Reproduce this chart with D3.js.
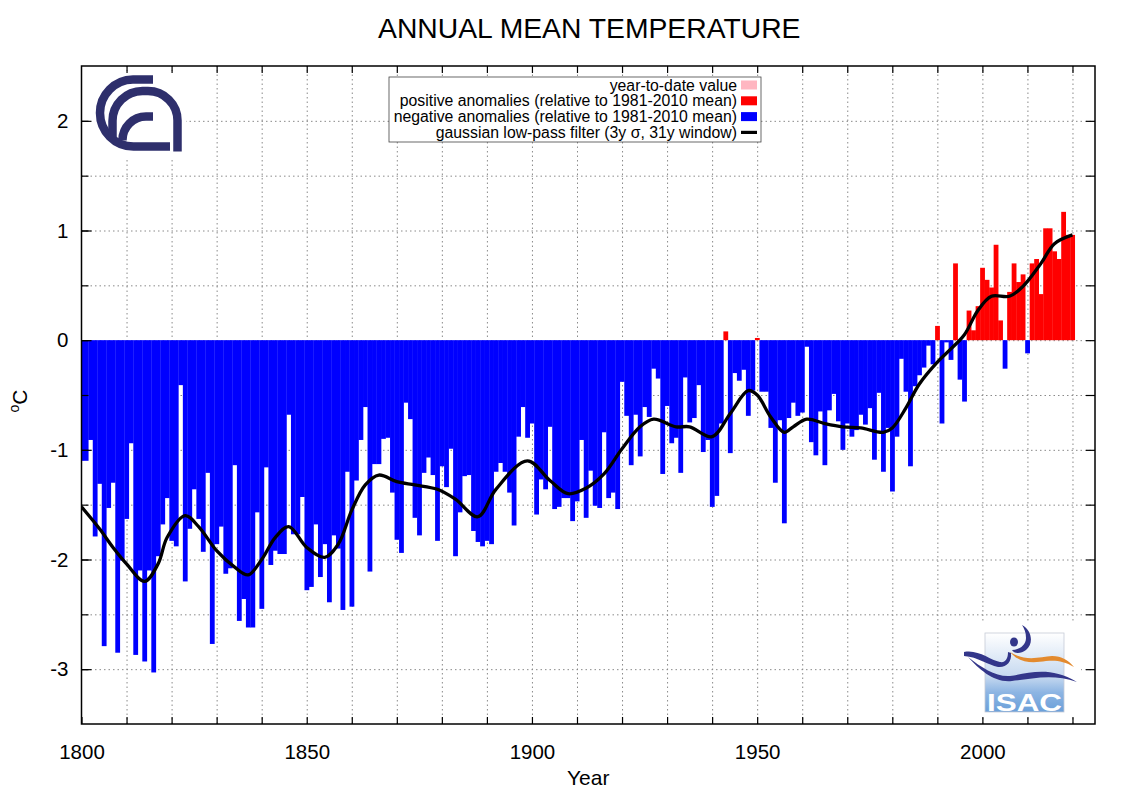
<!DOCTYPE html>
<html>
<head>
<meta charset="utf-8">
<script src="https://cdn.jsdelivr.net/npm/d3@7"></script>
<style>
body { margin: 0; background: #fff; }
text { font-family: "Liberation Sans", Arial, Helvetica, sans-serif; }
</style>
</head>
<body>
<script>
// annual anomalies (deg C, relative to 1981-2010), one value per year from 1800
var startYear = 1800;
var anomalies = [
  -1.10,-1.10,-0.91,-1.79,-1.31,-2.79,-1.53,-1.30,-2.85,-2.01,
  -1.63,-0.94,-2.87,-2.10,-2.93,-2.10,-3.03,-1.97,-1.68,-1.44,
  -1.83,-1.88,-0.41,-2.20,-1.72,-1.36,-1.63,-1.93,-1.21,-2.77,
  -1.86,-1.70,-2.13,-2.08,-1.14,-2.56,-2.36,-2.62,-2.62,-1.57,
  -2.45,-1.16,-2.05,-1.92,-1.95,-1.95,-0.68,-1.77,-1.77,-1.43,
  -2.28,-2.25,-1.68,-2.16,-1.86,-2.39,-1.78,-1.90,-2.46,-1.20,
  -2.43,-1.28,-0.91,-0.61,-2.11,-1.13,-1.13,-0.90,-0.89,-1.39,
  -1.82,-1.94,-0.57,-0.72,-1.62,-1.78,-1.21,-1.07,-1.23,-1.83,
  -1.15,-1.34,-0.99,-1.97,-1.57,-1.24,-1.23,-1.74,-1.84,-1.88,
  -1.83,-1.86,-1.20,-1.12,-1.20,-1.39,-1.69,-0.88,-0.61,-0.89,
  -0.76,-1.59,-1.27,-1.36,-0.79,-1.54,-1.52,-1.44,-1.44,-1.65,
  -1.47,-0.91,-1.62,-1.19,-1.51,-1.53,-0.84,-1.44,-1.39,-1.54,
  -0.38,-0.69,-1.14,-0.68,-1.06,-0.61,-0.70,-0.26,-0.35,-1.22,
  -0.60,-0.94,-0.89,-1.21,-0.34,-0.75,-0.71,-0.41,-1.02,-0.91,
  -1.52,-1.42,-0.76, 0.08,-1.03,-0.30,-0.37,-0.27,-0.69,-0.46,
   0.02,-0.47,-0.47,-0.80,-1.30,-0.73,-1.67,-0.71,-0.57,-0.69,
  -0.66,-0.06,-0.93,-1.05,-0.65,-1.14,-0.64,-0.49,-0.74,-1.00,
  -0.76,-0.88,-0.82,-0.68,-0.77,-0.62,-1.09,-0.48,-1.20,-0.80,
  -1.38,-0.88,-0.17,-0.47,-1.15,-0.42,-0.32,-0.25,-0.05,-0.22,
   0.13,-0.76,-0.02,-0.18, 0.70,-0.36,-0.56, 0.27, 0.09, 0.31,
   0.66, 0.55, 0.48, 0.87, 0.18,-0.26, 0.44, 0.70, 0.53, 0.60,
  -0.12, 0.70, 0.74, 0.42, 1.02, 1.02, 0.81, 0.74, 1.17, 0.96,
   0.96
];
// low-pass curve
var smoothYears = [1800,1804,1807,1810,1814,1817,1819,1823,1826,1830,1834,1837,1840,1843,1846,1850,
  1854,1857,1860,1863,1866,1870,1874,1879,1883,1888,1892,1899,1904,1908,1912,1916,1920,1924,1927,
  1932,1935,1940,1944,1948,1950,1953,1956,1958,1961,1965,1969,1973,1978,1980,1983,1986,1990,1993,
  1996,1999,2002,2006,2009,2013,2016,2020];
var smoothValues = [-1.52,-1.72,-1.89,-2.04,-2.20,-2.04,-1.80,-1.60,-1.70,-1.92,-2.07,-2.14,-2.00,-1.80,-1.70,-1.89,
  -1.98,-1.86,-1.55,-1.32,-1.23,-1.29,-1.32,-1.36,-1.45,-1.61,-1.36,-1.10,-1.28,-1.40,-1.35,-1.22,-0.99,-0.79,-0.72,
  -0.79,-0.79,-0.88,-0.67,-0.46,-0.50,-0.70,-0.84,-0.79,-0.72,-0.76,-0.79,-0.80,-0.84,-0.80,-0.62,-0.40,-0.20,-0.08,
  0.05,0.27,0.40,0.40,0.49,0.70,0.88,0.96];

var xLabelTicks = [1800, 1850, 1900, 1950, 2000];
var xGridTicks = [1810,1820,1830,1840,1850,1860,1870,1880,1890,1900,1910,1920,1930,1940,1950,1960,1970,1980,1990,2000,2010,2020];
var yLabelTicks = [-3, -2, -1, 0, 1, 2];
var yGridTicks = [-3, -2.5, -2, -1.5, -1, -0.5, 0, 0.5, 1, 1.5, 2];
var legendLabels = ["year-to-date value",
  "positive anomalies (relative to 1981-2010 mean)",
  "negative anomalies (relative to 1981-2010 mean)",
  "gaussian low-pass filter (3y \u03c3, 31y window)"];
var legendColors = ["#ffb6c1", "#ff0000", "#0000ff", "#000000"];

var plotL = 81.5, plotR = 1095, plotT = 66, plotB = 724;

var svg = d3.select("body").append("svg")
    .attr("width", 1134)
    .attr("height", 794);

var x = d3.scaleLinear().domain([1800, 2025]).range([plotL, plotR]);
var y = d3.scaleLinear().domain([-3.5, 2.5]).range([plotB, plotT]);

svg.append("clipPath").attr("id", "plotclip")
  .append("rect")
    .attr("x", plotL).attr("y", plotT)
    .attr("width", plotR - plotL).attr("height", plotB - plotT);

// grid
var gx = svg.append("g")
    .attr("transform", "translate(0," + plotB + ")")
    .call(d3.axisBottom(x).tickValues(xGridTicks).tickSize(-(plotB - plotT)).tickFormat(""));
var gy = svg.append("g")
    .attr("transform", "translate(" + plotL + ",0)")
    .call(d3.axisLeft(y).tickValues(yGridTicks).tickSize(-(plotR - plotL)).tickFormat(""));
[gx, gy].forEach(function(g){
    g.select(".domain").remove();
    g.selectAll("line")
        .attr("stroke", "#8a8a8a")
        .attr("stroke-width", 1)
        .attr("stroke-dasharray", "1.5,3");
});

// bars
var years = anomalies.map(function(d, i){ return startYear + i; });
svg.append("g")
    .attr("clip-path", "url(#plotclip)")
  .selectAll("rect")
    .data(anomalies).enter()
  .append("rect")
    .attr("x", function(d, i){ return x(years[i] - 0.5); })
    .attr("width", function(d, i){ return x(years[i] + 0.5) - x(years[i] - 0.5) + 0.3; })
    .attr("y", function(d){ return d > 0 ? y(d) : y(0); })
    .attr("height", function(d){ return Math.abs(y(d) - y(0)); })
    .attr("fill", function(d){ return d > 0 ? "#ff0000" : "#0000ff"; });

// smoothed curve
var line = d3.line()
    .x(function(d, i){ return x(smoothYears[i]); })
    .y(function(d){ return y(d); })
    .curve(d3.curveCatmullRom.alpha(0.5));
svg.append("path")
    .datum(smoothValues)
    .attr("clip-path", "url(#plotclip)")
    .attr("d", line)
    .attr("fill", "none")
    .attr("stroke", "#000")
    .attr("stroke-width", 3.3)
    .attr("stroke-linejoin", "round");

// CNR logo
var cnr = svg.append("g");
cnr.append("rect").attr("x", 84).attr("y", 71).attr("width", 102).attr("height", 86).attr("fill", "#fff");
cnr.selectAll("path")
    .data([
      "M153,79.5 H133 A33.5,33.5 0 0 0 100,113 A33.5,33.5 0 0 0 133.5,146.5 H170",
      "M112.5,139 V121 A30,30 0 0 1 142.5,91 H148 A29.5,29.5 0 0 1 177.5,120.5 V151.5",
      "M153,116.5 H146 A23.5,23.5 0 0 0 122.5,140 V140.5"
    ]).enter()
  .append("path")
    .attr("d", function(d){ return d; })
    .attr("fill", "none")
    .attr("stroke", "#2e2f6c")
    .attr("stroke-width", 8.5);

// ISAC logo
var defs = svg.append("defs");
var grad = defs.append("linearGradient").attr("id", "isacgrad")
    .attr("x1", 0).attr("y1", 0).attr("x2", 0).attr("y2", 1);
grad.append("stop").attr("offset", "0%").attr("stop-color", "#ffffff");
grad.append("stop").attr("offset", "55%").attr("stop-color", "#c6d9f0");
grad.append("stop").attr("offset", "75%").attr("stop-color", "#8db5e3");
grad.append("stop").attr("offset", "100%").attr("stop-color", "#6a9fd9");
var isac = svg.append("g");
isac.append("rect").attr("x", 961).attr("y", 621).attr("width", 120).attr("height", 96).attr("fill", "#fff");
isac.append("rect").attr("x", 985).attr("y", 633).attr("width", 79).attr("height", 79)
    .attr("fill", "url(#isacgrad)").attr("stroke", "#c5cbd6").attr("stroke-width", 0.8);
isac.append("path")
    .attr("d", "M964,652 C978,649 990,660 1000,662 C1006,663 1008,658 1008,652 L1011,653 C1012,662 1006,668 998,667 C988,665 978,657 964,656 Z")
    .attr("fill", "#33368a");
isac.append("path")
    .attr("d", "M968,657 C982,668 996,677 1010,676 C1030,673 1050,666 1077,682 C1052,673 1032,679 1012,681 C994,683 980,670 968,657 Z")
    .attr("fill", "#33368a");
isac.append("path")
    .attr("d", "M1010,652 C1025,662 1040,657 1052,656 C1062,656 1068,660 1074,667 C1064,661 1056,660 1046,661 C1034,663 1020,664 1010,652 Z")
    .attr("fill", "#e38a2e");
isac.append("path")
    .attr("d", "M1022,625 C1032,630 1034,644 1026,650 C1021,654 1014,654 1012,650 C1018,650 1026,646 1026,638 C1026,632 1024,628 1022,625 Z")
    .attr("fill", "#33368a");
isac.append("ellipse").attr("cx", 1014).attr("cy", 642).attr("rx", 4).attr("ry", 4.5).attr("fill", "#33368a");
isac.append("text")
    .attr("x", 987).attr("y", 711)
    .attr("textLength", 75).attr("lengthAdjust", "spacingAndGlyphs")
    .attr("font-size", "23px").attr("font-weight", "bold")
    .attr("fill", "#fff")
    .text("ISAC");

// legend
var legend = svg.append("g");
legend.append("rect")
    .attr("x", 389).attr("y", 77).attr("width", 372).attr("height", 65)
    .attr("fill", "#fff").attr("stroke", "#444").attr("stroke-width", 0.8);
var rows = legend.selectAll("g.row")
    .data(legendLabels).enter()
  .append("g").attr("class", "row")
    .attr("transform", function(d, i){ return "translate(0," + (85 + 15.8 * i) + ")"; });
rows.append("text")
    .attr("x", 737).attr("y", 5.5)
    .attr("text-anchor", "end")
    .attr("font-size", "15.8px")
    .attr("fill", "#000")
    .text(function(d){ return d; });
rows.filter(function(d, i){ return i < 3; })
  .append("rect")
    .attr("x", 741).attr("y", -4.5).attr("width", 16).attr("height", 9)
    .attr("fill", function(d, i){ return legendColors[i]; });
rows.filter(function(d, i){ return i === 3; })
  .append("line")
    .attr("x1", 741).attr("x2", 757).attr("y1", 0).attr("y2", 0)
    .attr("stroke", legendColors[3]).attr("stroke-width", 3.2);

// axes
function styleAxis(g){
    g.select(".domain").remove();
    g.selectAll("line").attr("stroke", "#000").attr("stroke-width", 1.2);
    g.selectAll("text").attr("font-size", "20.5px").attr("fill", "#000")
        .style("font-family", "'Liberation Sans', Arial, sans-serif");
}
svg.append("g")
    .attr("transform", "translate(0," + plotB + ")")
    .call(d3.axisBottom(x).tickValues(xGridTicks.concat([1800])).tickSize(-7).tickPadding(20)
        .tickFormat(function(d){ return xLabelTicks.indexOf(d) >= 0 ? d : ""; }))
    .call(styleAxis);
svg.append("g")
    .attr("transform", "translate(0," + plotT + ")")
    .call(d3.axisTop(x).tickValues(xGridTicks).tickSize(-7).tickFormat(""))
    .call(styleAxis);
svg.append("g")
    .attr("transform", "translate(" + plotL + ",0)")
    .call(d3.axisLeft(y).tickValues(yLabelTicks).tickSize(-10).tickPadding(13)
        .tickFormat(function(d){ return d < 0 ? "-" + Math.abs(d) : d; }))
    .call(styleAxis);
svg.append("g")
    .attr("transform", "translate(" + plotL + ",0)")
    .call(d3.axisLeft(y).tickValues(yGridTicks).tickSize(-7).tickFormat(""))
    .call(styleAxis);
svg.append("g")
    .attr("transform", "translate(" + plotR + ",0)")
    .call(d3.axisRight(y).tickValues(yGridTicks).tickSize(-9).tickFormat(""))
    .call(styleAxis);

// frame
svg.append("rect")
    .attr("x", plotL).attr("y", plotT)
    .attr("width", plotR - plotL).attr("height", plotB - plotT)
    .attr("fill", "none").attr("stroke", "#000").attr("stroke-width", 1.5);

// titles
svg.append("text")
    .attr("x", (plotL + plotR) / 2 + 1).attr("y", 38)
    .attr("text-anchor", "middle")
    .attr("font-size", "28.3px")
    .attr("fill", "#000")
    .text("ANNUAL MEAN TEMPERATURE");
svg.append("text")
    .attr("x", (plotL + plotR) / 2).attr("y", 785)
    .attr("text-anchor", "middle")
    .attr("font-size", "21px")
    .attr("fill", "#000")
    .text("Year");
var ylab = svg.append("text")
    .attr("transform", "translate(27,401) rotate(-90)")
    .attr("text-anchor", "middle")
    .attr("fill", "#000");
ylab.append("tspan").attr("font-size", "14px").attr("dy", "-8").text("o");
ylab.append("tspan").attr("font-size", "21px").attr("dy", "8").text("C");
</script>
</body>
</html>
